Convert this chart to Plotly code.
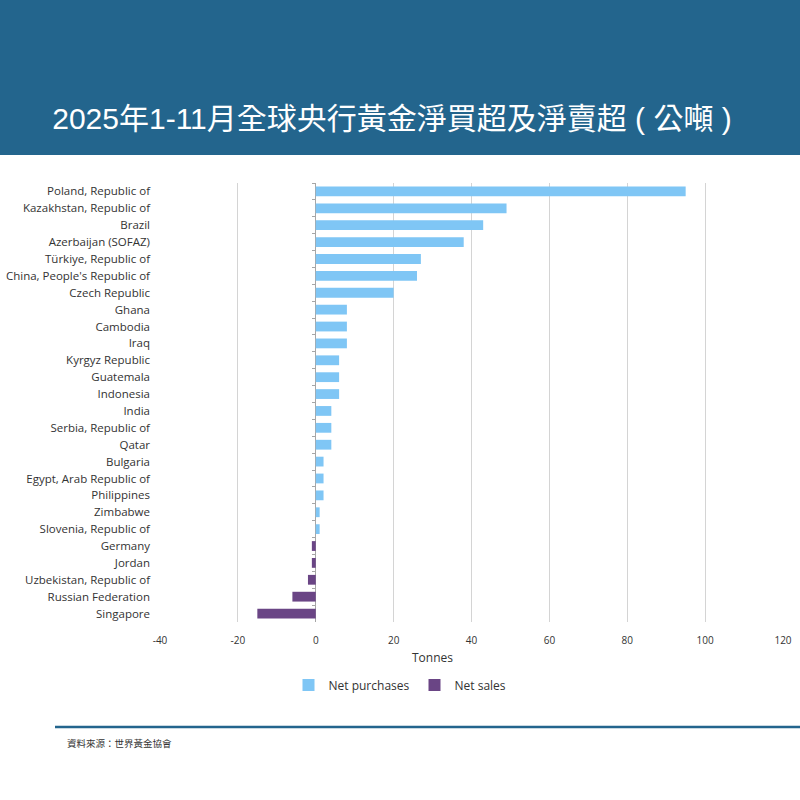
import plotly.graph_objects as go

# data (tonnes, Jan-Nov 2025)
countries = [
    "Poland, Republic of", "Kazakhstan, Republic of", "Brazil", "Azerbaijan (SOFAZ)",
    "Türkiye, Republic of", "China, People's Republic of", "Czech Republic", "Ghana",
    "Cambodia", "Iraq", "Kyrgyz Republic", "Guatemala", "Indonesia", "India",
    "Serbia, Republic of", "Qatar", "Bulgaria", "Egypt, Arab Republic of",
    "Philippines", "Zimbabwe", "Slovenia, Republic of", "Germany", "Jordan",
    "Uzbekistan, Republic of", "Russian Federation", "Singapore",
]
tonnes = [95, 49, 43, 38, 27, 26, 20, 8, 8, 8, 6, 6, 6, 4, 4, 4, 2, 2, 2, 1, 1,
          -1, -1, -2, -6, -15]
x_ticks = [-40, -20, 0, 20, 40, 60, 80, 100, 120]
x_tick_labels = ["-40", "-20", "0", "20", "40", "60", "80", "100", "120"]

title_text = "2025年1-11月全球央行黃金淨買超及淨賣超 ( 公噸 )"
source_text = "資料來源：世界黃金協會"

purchases = [v if v > 0 else None for v in tonnes]
sales = [v if v < 0 else None for v in tonnes]

HEADER = "rgb(35,101,141)"
BLUE = "#7fc6f5"
PURPLE = "#6a4585"

# px -> paper helpers (plot area is 160..783 by 183..622)
L, R, T, B = 160, 783, 183, 622
def px_x(p):
    return (p - L) / (R - L)
def px_y(p):
    return (B - p) / (B - T)

n = len(countries)

fig = go.Figure()
fig.add_trace(go.Bar(y=countries, x=purchases, orientation="h", name="Net purchases",
                     marker=dict(color=BLUE, line=dict(width=0)), width=0.58))
fig.add_trace(go.Bar(y=countries, x=sales, orientation="h", name="Net sales",
                     marker=dict(color=PURPLE, line=dict(width=0)), width=0.58))
# invisible trace so the tick-only axis sitting at x=0 gets drawn
fig.add_trace(go.Scatter(y=countries, x=[None] * n, yaxis="y2",
                         showlegend=False, hoverinfo="skip", mode="markers"))

fig.update_layout(
    width=800, height=800,
    margin=dict(l=L, r=800 - R, t=T, b=800 - B),
    paper_bgcolor="white", plot_bgcolor="white",
    barmode="relative",
    font=dict(family="Open Sans, Noto Sans", size=11, color="#333"),
    title=dict(text=title_text, x=0.49, xanchor="center", y=1 - 118 / 800,
               yanchor="middle", automargin=False,
               font=dict(family="Liberation Sans, Noto Sans CJK TC", size=30,
                         color="white")),
    xaxis=dict(range=[-40, 120], tickvals=x_ticks, ticktext=x_tick_labels,
               showgrid=True, gridcolor="#d4d4d4", gridwidth=1, zeroline=True,
               zerolinecolor="#a6a6a6", zerolinewidth=1, showline=False,
               ticks="", ticklabelstandoff=11, automargin=False,
               tickfont=dict(size=10, color="#333")),
    yaxis=dict(type="category", categoryarray=countries, range=[n - 0.5, -0.5],
               showgrid=False, showline=False, ticks="", ticklabelstandoff=9,
               automargin=False, tickfont=dict(size=11.5, color="#333")),
    yaxis2=dict(type="category", categoryarray=countries, overlaying="y",
                range=[n - 0.5, -0.5], anchor="free", position=px_x(316),
                showticklabels=False, ticks="outside", ticklen=4,
                tickcolor="#a6a6a6", tickson="boundaries", showgrid=False,
                showline=False, automargin=False),
    legend=dict(orientation="h", x=px_x(400), xanchor="center", y=px_y(685),
                yanchor="middle", font=dict(size=12, color="#333"),
                itemwidth=30, traceorder="normal"),
    showlegend=True,
)

fig.add_shape(type="rect", xref="paper", yref="paper",
              x0=px_x(0), x1=px_x(800), y0=px_y(155), y1=px_y(0),
              fillcolor=HEADER, line=dict(width=0), layer="below")
fig.add_shape(type="line", xref="paper", yref="paper",
              x0=px_x(55), x1=px_x(800), y0=px_y(727), y1=px_y(727),
              line=dict(color=HEADER, width=2.5))

fig.add_annotation(text="Tonnes", xref="paper", yref="paper", x=px_x(432),
                   y=px_y(657), showarrow=False, xanchor="center",
                   yanchor="middle", font=dict(size=12, color="#333"))
fig.add_annotation(text=source_text, xref="paper", yref="paper", x=px_x(65),
                   y=px_y(743), showarrow=False, xanchor="left",
                   yanchor="middle",
                   font=dict(family="Noto Sans CJK TC", size=9.5, color="#333"))

# pin the figure to the page corner (no default body margin, no scrollbars)
pin = ("document.documentElement.style.overflow='hidden';"
       "document.body.style.margin='0';document.body.style.overflow='hidden';")
fig.write_html("out.html", config={"displayModeBar": False}, post_script=pin)
